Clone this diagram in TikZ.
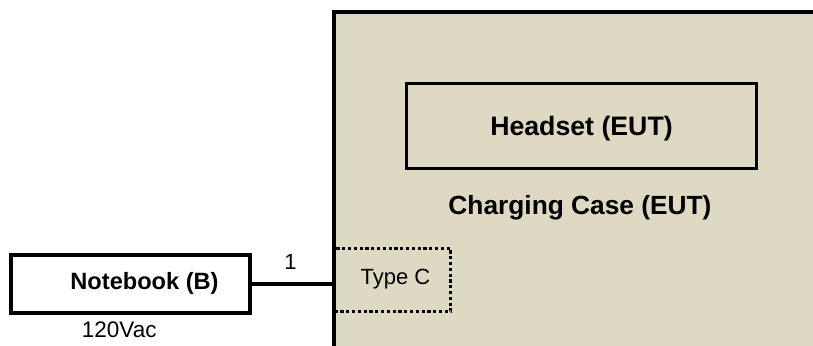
\documentclass[tikz,border=0pt]{standalone}
\usepackage{fontspec}
\setmainfont{Liberation Sans}
\usetikzlibrary{positioning}
\definecolor{casetan}{RGB}{221,217,195}
\tikzset{
  box/.style={draw, line width=3.8pt, text depth=0pt, inner sep=0pt},
  portbox/.style={draw, line width=3.4pt, dash pattern=on 3.2pt off 2.6pt, text depth=0pt, inner sep=0pt},
  cable/.style={line width=3.8pt}
}
\begin{document}
\begin{tikzpicture}[x=1pt,y=-1pt]
    \useasboundingbox (0,0) rectangle (813,345);
    \clip (0,0) rectangle (813,345);
    % charging case
    \fill [casetan] (334.2,11.8) rectangle (830,360);
        \node [box, minimum width=350pt, minimum height=85pt, text height=19.1pt, font=\fontsize{26.7}{30}\selectfont\bfseries] (hs) at (581.5,126) {Headset (EUT)};
        \node [anchor=base, font=\fontsize{26.3}{30}\selectfont\bfseries] (cc) at (580,214) {Charging Case (EUT)};
        \node [portbox, minimum width=116pt, minimum height=63pt, text height=15.7pt, font=\fontsize{22}{26}\selectfont] (tc) at (392.5,280) {\hspace*{6pt}\raisebox{3pt}{Type C}};
    \draw [line width=3.8pt] (830,11.8) -- (334.2,11.8) -- (334.2,360);
    % notebook
    \node [box, minimum width=239pt, minimum height=58pt, text height=16.8pt, font=\fontsize{23.6}{28}\selectfont\bfseries] (nb) at (130.8,284) {\hspace*{27.4pt}\raisebox{3pt}{Notebook (B)}};
        \node [anchor=base, font=\fontsize{22.5}{26}\selectfont] (ac) at ([xshift=-11.6pt,yshift=-22.5pt]nb.south) {120Vac};
    \draw [cable] (nb.east) -- (nb.east -| tc.west)
        node [midway, anchor=base, yshift=15pt, xshift=-2pt, font=\fontsize{22}{26}\selectfont] (n1) {1};
\end{tikzpicture}
\end{document}
